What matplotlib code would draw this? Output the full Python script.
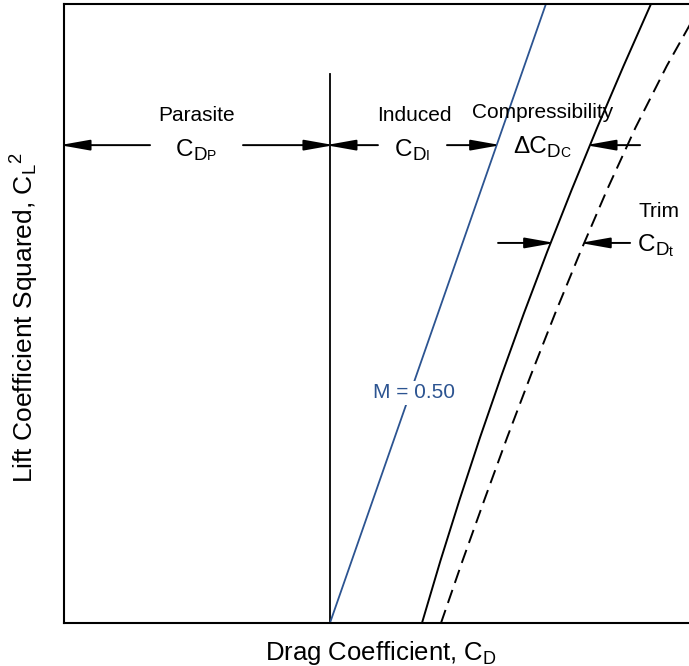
import numpy as np
import matplotlib.pyplot as plt

plt.rcParams['font.family'] = ['Liberation Sans', 'DejaVu Sans']
plt.rcParams['mathtext.fontset'] = 'custom'
plt.rcParams['mathtext.rm'] = 'Liberation Sans'
plt.rcParams['mathtext.it'] = 'Liberation Sans:italic'

# drag polar pieces (CL^2 on y, CD on x)
cl2 = [0.0, 0.1, 0.2, 0.3, 0.4, 0.5, 0.6, 0.7, 0.8, 0.9, 1.0]
cd_mach = [0.02692, 0.02830, 0.02976, 0.03129, 0.03290, 0.03458,
           0.03634, 0.03818, 0.04009, 0.04208, 0.04414]
cd_trim = [0.02835, 0.02996, 0.03163, 0.03333, 0.03510, 0.03693,
           0.03884, 0.04084, 0.04297, 0.04533, 0.04794]
cl2_low = [0.0, 1.0]
cd_low = [0.020, 0.03624]
cd_parasite = 0.020
parasite_top = 0.887

blue = '#2c5491'

fig = plt.figure(figsize=(6.89, 6.66), dpi=100)
ax = fig.add_axes([64 / 689, 43 / 666, 625 / 689, 619 / 666])
ax.set_xlim(0, 0.047)
ax.set_ylim(0, 1)
ax.set_xticks([])
ax.set_yticks([])
for side in ['left', 'top', 'bottom']:
    ax.spines[side].set_linewidth(1.5)
ax.spines['right'].set_visible(False)

ax.plot([cd_parasite, cd_parasite], [0, parasite_top], color='black', lw=1.3)
ax.plot(cd_low, cl2_low, color=blue, lw=1.3)
ax.plot(cd_mach, cl2, color='black', lw=1.4)
ax.plot(cd_trim, cl2, color='black', lw=1.4, linestyle=(0, (7.1, 3.8)))

ax.text(0.02632, 0.3716, 'M = 0.50', color=blue, fontsize=15, ha='center', va='center',
        bbox=dict(fc='white', ec='none', pad=1.5))


def arrow(x0, x1, y):
    # the filled head stops a few pixels short of its end point, push it on a bit
    x1 = x1 + np.sign(x1 - x0) * 0.0003
    ax.annotate('', xy=(x1, y), xytext=(x0, y), annotation_clip=False,
                arrowprops=dict(arrowstyle='-|>,head_length=1.8,head_width=0.32',
                                mutation_scale=10, lw=1.4, color='black',
                                shrinkA=0, shrinkB=0))


def cd_label(x, y, main, sub, subsub):
    t = ax.text(x, y, main, fontsize=17.5, ha='left', va='baseline')
    d = ax.annotate(sub, xy=(1, 0), xycoords=t, xytext=(0, 0.4),
                    textcoords='offset points', fontsize=13.5, va='baseline')
    ax.annotate(subsub, xy=(1, 0), xycoords=d, xytext=(0, 2.8),
                textcoords='offset points', fontsize=10, va='baseline')


y_arr = 0.772
y_trim = 0.614

# parasite
ax.text(0.0100, 0.811, 'Parasite', fontsize=15, ha='center', va='baseline')
cd_label(0.00842, 0.755, 'C', 'D', 'P')
arrow(0.00647, 0.0, y_arr)
arrow(0.01346, cd_parasite, y_arr)

# induced
ax.text(0.02632, 0.811, 'Induced', fontsize=15, ha='center', va='baseline')
cd_label(0.02489, 0.755, 'C', 'D', 'I')
arrow(0.02361, cd_parasite, y_arr)
arrow(0.0288, np.interp(y_arr, cl2_low, cd_low), y_arr)

# compressibility
ax.text(0.03602, 0.816, 'Compressibility', fontsize=15, ha='center', va='baseline')
cd_label(0.03376, 0.760, '\u0394C', 'D', 'C')
arrow(0.04332, np.interp(y_arr, cl2, cd_mach), y_arr)

# trim
ax.text(0.04474, 0.656, 'Trim', fontsize=15, ha='center', va='baseline')
cd_label(0.04316, 0.601, 'C', 'D', 't')
arrow(0.03264, np.interp(y_trim, cl2, cd_mach), y_trim)
arrow(0.04257, np.interp(y_trim, cl2, cd_trim), y_trim)

fig.text(381 / 689, 6 / 666, r'Drag Coefficient, $\mathrm{C_D}$', fontsize=18.5,
         ha='center', va='baseline')
fig.text(34 / 689, (666 - 318) / 666, r'Lift Coefficient Squared, $\mathrm{C_L}^{\mathrm{2}}$',
         fontsize=19, rotation=90, rotation_mode='anchor', ha='center', va='baseline')

fig.savefig('out.png', dpi=100)
